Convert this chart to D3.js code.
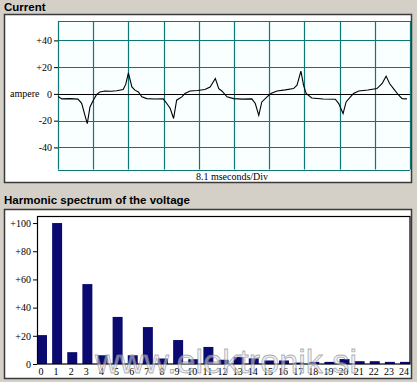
<!DOCTYPE html>
<html><head><meta charset="utf-8">
<script src="https://cdn.jsdelivr.net/npm/d3@7"></script>
<style>
html,body{margin:0;padding:0;background:#d4d0c8;}
svg{display:block;}
</style></head>
<body>
<svg id="c" width="417" height="382"></svg>
<script>
// ---- data ----
const currentTitle = "Current";
const spectrumTitle = "Harmonic spectrum of the voltage";
const timeMs = [0,0.9,2.8,4.6,5.45,6.2,6.74,7.36,8.12,8.9,9.66,10.8,12.2,13.5,15,15.6,16.2,17,17.7,18.5,19.3,20.4,22.3,24.2,25,25.8,26.6,27.3,28.5,29.2,30.4,32.1,33.8,35,36.2,37,37.7,38.9,40.4,42.5,44.6,45.4,46.2,46.9,48.1,49,50.4,52.3,54.2,55,55.9,56.5,57.1,58.4,61,63.8,64.6,65.6,66.3,67.3,68,69.2,71.3,73.4,74.6,75.5,76.3,77.2,78.4,79.2,80.3];
const ampere = [-2,-3.7,-3.5,-3.9,-7,-16,-22.2,-9.7,-4.7,-0.4,1.5,2.2,2.0,2.4,3.3,7.3,15.7,5.2,2.8,1.5,-2.2,-3.5,-3.8,-3.7,-7,-10.7,-18.4,-4.7,-2.2,0.3,2.2,2.6,3.3,5.2,11.5,4,2.2,-2.2,-3.5,-3.9,-3.7,-7.2,-16,-6,-2.2,0.3,2.2,3.0,4,6.5,17,6.5,0.3,-3,-3.8,-4,-7.2,-14.7,-6,-2.2,0.3,2.2,2.9,4,7.8,13.3,7.8,4,-1,-3.5,-3.7];
const currentTicks = [40,20,0,-20,-40];
const divisionMs = 8.1;
const xAxisLabel = "8.1 mseconds/Div";
const yAxisLabel = "ampere";
const harmonics = d3.range(0,25);
const harmonicValues = [20.5,100,8.4,56.7,6.2,33.4,6.2,26.2,3.9,17,3.4,12.1,3,5,4,2.5,2.5,1,1.5,1.5,3.5,2,2,1.5,1.5];
const spectrumTicks = [100,80,60,40,20,0];
const watermark = "www.elektronik.si";

const svg = d3.select("#c");
const serif = "'Liberation Serif','Times New Roman',serif";
const sans = "'Liberation Sans',Arial,sans-serif";
const fmt = d => d > 0 ? "+" + d : String(d);

// ---- titles ----
svg.append("text").attr("x",4).attr("y",11).text(currentTitle)
  .attr("font-family",sans).attr("font-weight","bold").attr("font-size","11.5px").attr("fill","#000");
svg.append("text").attr("x",4).attr("y",204).text(spectrumTitle)
  .attr("font-family",sans).attr("font-weight","bold").attr("font-size","11.5px").attr("fill","#000");

// ---- panel boxes ----
svg.append("rect").attr("x",4.5).attr("y",14.5).attr("width",407).attr("height",168)
  .attr("fill","#fff").attr("stroke","#3a3a3a").attr("stroke-width",1.5);
svg.append("rect").attr("x",4.5).attr("y",209.5).attr("width",407).attr("height",169)
  .attr("fill","#fff").attr("stroke","#3a3a3a").attr("stroke-width",1.5);

// ---- current chart ----
const x1 = d3.scaleLinear().domain([0, 81]).range([58, 410]);
const y1 = d3.scaleLinear().domain([-56.5, 54.5]).range([169.5, 21]);
const g1 = svg.append("g");
g1.append("rect").attr("x",x1(0)).attr("y",y1(54.5)).attr("width",x1(81)-x1(0)).attr("height",y1(-56.5)-y1(54.5))
  .attr("fill","#f9ffff");
const vTicks = d3.range(0, 11).map(i => i*divisionMs);
g1.selectAll("line.v").data(vTicks).join("line").attr("class","v")
  .attr("x1",d=>Math.round(x1(d))+0.5).attr("x2",d=>Math.round(x1(d))+0.5)
  .attr("y1",y1(54.5)).attr("y2",y1(-56.5)).attr("stroke","#0f7676").attr("stroke-width",1.2);
g1.selectAll("line.h").data([54.5,40,20,-20,-40,-56.5]).join("line").attr("class","h")
  .attr("x1",x1(0)).attr("x2",x1(81))
  .attr("y1",d=>Math.round(y1(d))+0.5).attr("y2",d=>Math.round(y1(d))+0.5)
  .attr("stroke","#0f7676").attr("stroke-width",1.2);
g1.append("line").attr("x1",x1(0)).attr("x2",x1(81)).attr("y1",Math.round(y1(0))+0.5).attr("y2",Math.round(y1(0))+0.5)
  .attr("stroke","#000").attr("stroke-width",1.2);
const ax1 = g1.append("g").attr("transform",`translate(${x1(0)},0)`)
  .call(d3.axisLeft(y1).tickValues(currentTicks).tickFormat(fmt).tickSize(4).tickPadding(2));
ax1.select(".domain").remove();
ax1.selectAll("line").attr("stroke","#000");
ax1.selectAll("text").attr("font-family",serif).attr("font-size","10px").attr("fill","#000");
g1.append("text").attr("x",10).attr("y",y1(0)+3.5).text(yAxisLabel)
  .attr("font-family",serif).attr("font-size","10px").attr("fill","#000");
g1.append("text").attr("x",232).attr("y",180).attr("text-anchor","middle").text(xAxisLabel)
  .attr("font-family",serif).attr("font-size","10px").attr("fill","#000");
const wave = timeMs.map((t,i)=>[t, ampere[i]]);
g1.append("path").datum(wave)
  .attr("d", d3.line().x(d=>x1(d[0])).y(d=>y1(d[1])))
  .attr("fill","none").attr("stroke","#000").attr("stroke-width",1.1);

// ---- spectrum chart ----
const x2 = d3.scaleBand().domain(harmonics).range([37, 410]).paddingInner(0.34).paddingOuter(0);
const y2 = d3.scaleLinear().domain([0, 105]).range([364, 216]);
const g2 = svg.append("g");
g2.selectAll("rect.bar").data(harmonics).join("rect").attr("class","bar")
  .attr("x",d=>x2(d)).attr("width",x2.bandwidth())
  .attr("y",d=>y2(harmonicValues[d])).attr("height",d=>y2(0)-y2(harmonicValues[d]))
  .attr("fill","#0a0a70");
g2.append("rect").attr("x",37.5).attr("y",216.5).attr("width",372.5).attr("height",147.5)
  .attr("fill","none").attr("stroke","#000").attr("stroke-width",1.2);
const ax2 = g2.append("g").attr("transform","translate(37,0)")
  .call(d3.axisLeft(y2).tickValues(spectrumTicks).tickFormat(fmt).tickSize(4).tickPadding(2));
ax2.select(".domain").remove();
ax2.selectAll("line").attr("stroke","#000");
ax2.selectAll("text").attr("font-family",serif).attr("font-size","10px").attr("fill","#000");
const bx2 = g2.append("g").attr("transform","translate(-1,364)")
  .call(d3.axisBottom(x2).tickSize(0).tickPadding(4));
bx2.select(".domain").remove();
bx2.selectAll("text").attr("font-family",serif).attr("font-size","10px").attr("fill","#000");

// ---- watermark ----
svg.append("text").attr("x",95).attr("y",373).text(watermark)
  .attr("font-family",sans).attr("font-size","34px").attr("textLength",262).attr("lengthAdjust","spacingAndGlyphs")
  .attr("fill","rgba(225,225,230,0.55)").attr("stroke","rgba(120,120,130,0.6)").attr("stroke-width",0.8);
</script>
</body></html>
